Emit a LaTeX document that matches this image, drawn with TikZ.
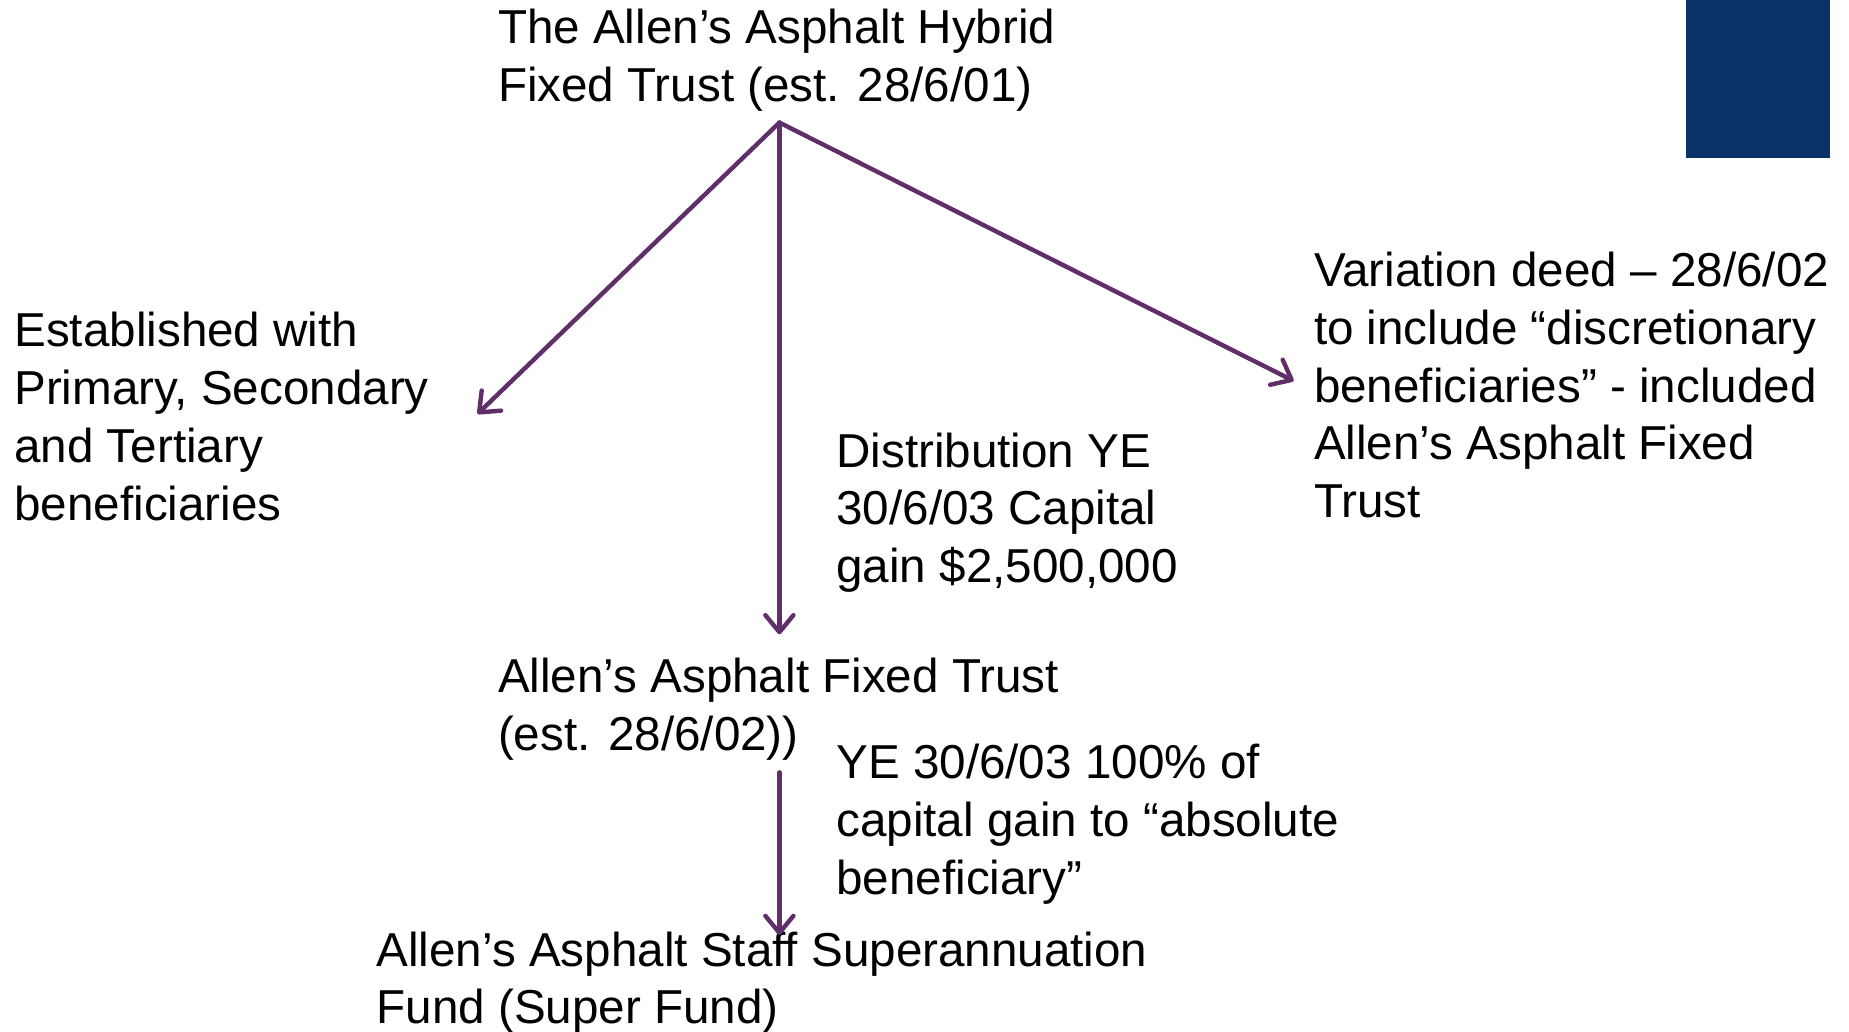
\documentclass[tikz,border=0pt]{standalone}
\usepackage{fontspec}
\setmainfont{Liberation Sans}
\usetikzlibrary{arrows.meta}
\definecolor{flowpurple}{RGB}{96,46,104}
\definecolor{cornerblue}{RGB}{12,51,103}
% left-aligned block whose baseline is the first line
\newcommand\linestack[1]{\begin{tabular}[t]{@{}l@{}}#1\end{tabular}}
\begin{document}
\begin{tikzpicture}[x=0.5pt,y=-0.5pt,
  blocktext/.style={anchor=base west, inner sep=0pt,
    font=\fontsize{23.8pt}{28.85pt}\selectfont},
  flow/.style={draw=flowpurple, line width=2.2pt, line cap=round,
    -{Straight Barb[length=8.5pt,width=14pt,line join=round,line cap=round]}}]
\fill[white] (0,0) rectangle (1849,1032);
\useasboundingbox (0,0) rectangle (1849,1032);
% corner block
\fill[cornerblue] (1686,0) rectangle (1830,158);

% text blocks
\node[blocktext] (hybrid) at (497.6,44)
  {\linestack{The Allen’s Asphalt Hybrid\\Fixed Trust (est. 28/6/01)}};
\node[blocktext] (established) at (14,347)
  {\linestack{Established with\\Primary, Secondary\\and Tertiary\\beneficiaries}};
\node[blocktext] (distribution) at (836,467.3)
  {\linestack{Distribution YE\\30/6/03 Capital\\gain \$2,500,000}};
\node[blocktext] (variation) at (1313.6,286.9)
  {\linestack{Variation deed – 28/6/02\\to include “discretionary\\beneficiaries” - included\\Allen’s Asphalt Fixed\\Trust}};
\node[blocktext] (fixed) at (497.6,692.5)
  {\linestack{Allen’s Asphalt Fixed Trust\\(est. 28/6/02))}};
\node[blocktext] (yearend) at (836,778.6)
  {\linestack{YE 30/6/03 100\% of\\capital gain to “absolute\\beneficiary”}};
\node[blocktext] (superfund) at (376.2,966.1)
  {\linestack{Allen’s Asphalt Staff Superannuation\\Fund (Super Fund)}};

% connector ends
\coordinate (hub) at (779.4,122.6);
\coordinate (toEstablished) at (477.6,413.9);
\coordinate (toFixed) at (779.4,634.4);
\coordinate (toVariation) at (1293.6,380.9);
\coordinate (fromFixed) at (779.4,772.4);
\coordinate (toSuper) at (779.4,935.1);

\draw[flow] (hub) -- (toEstablished);
\draw[flow] (hub) -- (toFixed);
\draw[flow] (hub) -- (toVariation);
\draw[flow] (fromFixed) -- (toSuper);
\end{tikzpicture}
\end{document}
